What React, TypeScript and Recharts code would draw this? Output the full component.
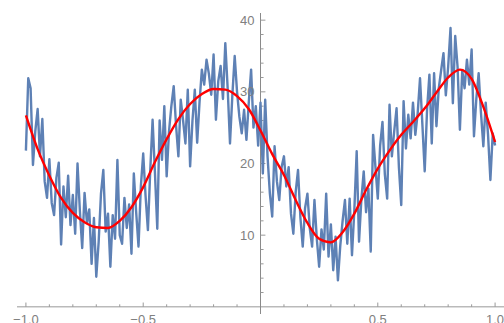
import { Line, LineChart, ReferenceDot, ReferenceLine, XAxis, YAxis } from "recharts";

// noisy samples, x = -1.00 .. 1.00 in steps of 0.01
const NOISY_STEP = 0.01;
const noisyValues = [
  21.8, 31.9, 30.5, 19.8, 24.5, 27.6, 21.0, 26.2, 17.5, 15.2,
  20.6, 14.5, 12.8, 18.0, 20.1, 8.7, 16.8, 12.5, 18.3, 11.4,
  15.6, 10.2, 20.0, 13.4, 8.2, 15.9, 11.8, 13.6, 6.0, 12.4,
  4.2, 9.0, 15.8, 19.1, 10.5, 13.0, 5.6, 12.8, 9.5, 20.5,
  10.0, 8.8, 15.2, 11.0, 14.3, 7.4, 18.6, 13.2, 8.4, 16.8,
  21.4, 15.5, 10.7, 19.0, 26.1, 18.7, 10.9, 26.0, 20.5, 28.0,
  18.2, 24.5, 28.0, 30.8, 25.3, 21.0, 28.9, 26.0, 22.8, 30.3,
  19.6, 26.0, 30.3, 22.9, 28.5, 33.1, 31.0, 34.5, 32.5, 29.6,
  35.2, 26.1, 31.5, 33.6, 29.0, 36.8, 30.5, 22.8, 29.5, 35.0,
  30.0, 26.5, 24.2, 27.5, 23.3, 28.5, 33.1, 25.0, 28.0, 22.5,
  28.5, 18.6, 28.9, 21.0, 15.8, 12.6, 22.4, 17.5, 14.9, 19.5,
  21.0, 16.8, 19.5, 13.0, 10.2, 16.0, 19.1, 12.5, 8.4, 13.8,
  15.8, 11.0, 8.4, 14.9, 9.5, 5.6, 10.8, 8.0, 15.8, 7.0,
  11.5, 5.1, 9.8, 3.7, 8.5, 12.0, 14.9, 8.8, 15.1, 7.2,
  13.5, 21.7, 9.1, 15.0, 18.9, 13.2, 16.5, 7.7, 24.0, 19.5,
  15.1, 22.5, 25.8, 18.5, 15.1, 28.2, 21.0, 24.5, 27.7, 19.5,
  14.2, 28.7, 22.1, 26.8, 23.5, 28.5, 24.0, 27.0, 31.9, 25.5,
  18.9, 27.5, 32.4, 22.8, 32.6, 25.2, 30.5, 33.0, 35.4, 29.5,
  33.5, 38.9, 28.4, 37.8, 33.5, 24.7, 33.0, 30.5, 34.5, 31.0,
  35.9, 23.8, 29.0, 32.6, 27.0, 22.4, 28.5, 24.0, 17.7, 24.2,
  22.5,
];

// fitted curve, x = -1.00 .. 1.00 in steps of 0.05
const FIT_STEP = 0.05;
const fitValues = [
  26.7, 22.0, 18.3, 15.2, 13.1, 11.8, 11.1, 11.0, 12.0, 13.9,
  16.7, 20.2, 23.4, 26.2, 28.3, 29.7, 30.4, 30.3, 29.4, 27.6,
  24.6, 21.3, 18.4, 14.9, 11.7, 9.5, 9.0, 10.4, 13.0, 16.3,
  19.3, 21.8, 24.0, 25.8, 27.7, 29.9, 32.0, 33.1, 31.8, 27.9,
  23.0,
];

const xMajorTicks = [-1, -0.5, 0.5, 1];
const xTickLabels = ["\u22121.0", "\u22120.5", "0.5", "1.0"];
const xMinorTicks = [-0.9, -0.8, -0.7, -0.6, -0.4, -0.3, -0.2, -0.1, 0.1, 0.2, 0.3, 0.4, 0.6, 0.7, 0.8, 0.9];
const yMajorTicks = [10, 20, 30, 40];
const yMinorTicks = [2, 4, 6, 8, 12, 14, 16, 18, 22, 24, 26, 28, 32, 34, 36, 38];

const noisyData = noisyValues.map((y, i) => ({ x: +(-1 + i * NOISY_STEP).toFixed(2), y }));
const fitData = fitValues.map((y, i) => ({ x: +(-1 + i * FIT_STEP).toFixed(2), y }));

const AXIS = "#999999";
const LABEL = "#808080";
const FONT = '"Liberation Sans", Arial, sans-serif';

export default function App() {
  return (
    <div style={{ position: "absolute", left: 0, top: 0, fontFamily: FONT }}>
      <LineChart width={504} height={323} margin={{ top: 13, right: 0, bottom: 9, left: 17 }}>
        <XAxis type="number" dataKey="x" domain={[-1.038, 1.038]} hide allowDataOverflow />
        <YAxis type="number" dataKey="y" domain={[-1, 41]} hide allowDataOverflow />

        <ReferenceLine y={0} stroke={AXIS} strokeWidth={1} />
        <ReferenceLine x={0} stroke="#8a8a8a" strokeWidth={1} />

        {xMajorTicks.map((v) => (
          <ReferenceLine key={"xM" + v} segment={[{ x: v, y: 0 }, { x: v, y: 0.6 }]} stroke={AXIS} />
        ))}
        {xMinorTicks.map((v) => (
          <ReferenceLine key={"xm" + v} segment={[{ x: v, y: 0 }, { x: v, y: 0.35 }]} stroke={AXIS} />
        ))}
        {yMajorTicks.map((v) => (
          <ReferenceLine key={"yM" + v} segment={[{ x: 0, y: v }, { x: 0.021, y: v }]} stroke={AXIS} />
        ))}
        {yMinorTicks.map((v) => (
          <ReferenceLine key={"ym" + v} segment={[{ x: 0, y: v }, { x: 0.013, y: v }]} stroke={AXIS} />
        ))}

        {xMajorTicks.map((v, i) => (
          <ReferenceDot
            key={"xl" + v}
            x={v}
            y={0}
            r={0}
            stroke="none"
            fill="none"
            label={{ value: xTickLabels[i], position: "bottom", offset: 8, fill: LABEL, fontSize: 13, fontFamily: FONT }}
          />
        ))}
        {yMajorTicks.map((v) => (
          <ReferenceDot
            key={"yl" + v}
            x={0}
            y={v}
            r={0}
            stroke="none"
            fill="none"
            label={{ value: String(v), position: "left", offset: 6, fill: LABEL, fontSize: 13, fontFamily: FONT }}
          />
        ))}

        <Line
          data={noisyData}
          dataKey="y"
          type="linear"
          stroke="#5E81B5"
          strokeWidth={2.4}
          strokeLinejoin="round"
          dot={false}
          activeDot={false}
          isAnimationActive={false}
        />
        <Line
          data={fitData}
          dataKey="y"
          type="monotone"
          stroke="#FF0000"
          strokeWidth={2.4}
          dot={false}
          activeDot={false}
          isAnimationActive={false}
        />
      </LineChart>
    </div>
  );
}
